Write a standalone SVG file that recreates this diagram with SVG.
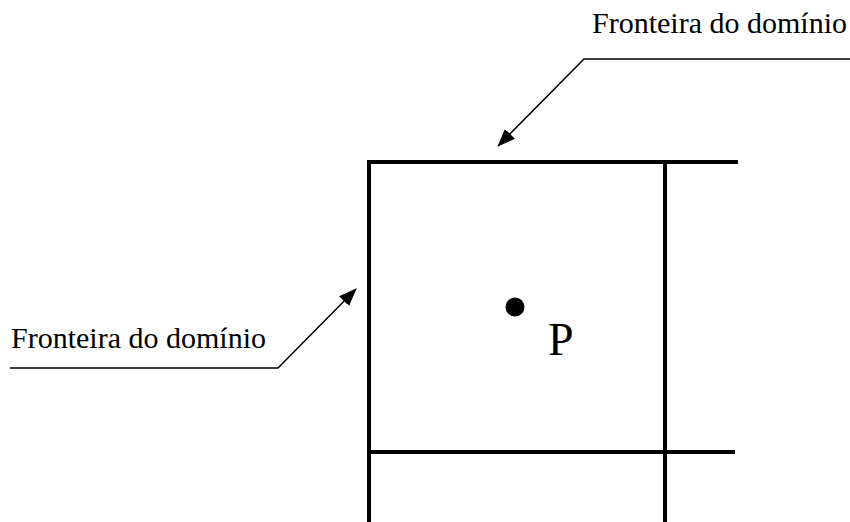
<svg xmlns="http://www.w3.org/2000/svg" width="850" height="522" viewBox="0 0 850 522">
<style>
.grid{stroke:#000;stroke-width:4;fill:none;stroke-linecap:square}
.lead{stroke:#000;stroke-width:1.5;fill:none}
.lbl{font-family:'Liberation Serif','Times New Roman',serif;font-size:30px;fill:#000}
.p{font-family:'Liberation Serif','Times New Roman',serif;font-size:46px;fill:#000}
</style>
<defs>
<marker id="ah" viewBox="0 0 18 14" refX="17" refY="7" markerWidth="18" markerHeight="14" markerUnits="userSpaceOnUse" orient="auto">
<path d="M0,0 L18,7 L0,14 Z" fill="#000"/>
</marker>
</defs>
<g id="grid">
<line class="grid" x1="369" y1="162" x2="736" y2="162"/>
<line class="grid" x1="369" y1="162" x2="369" y2="522"/>
<line class="grid" x1="665" y1="162" x2="665" y2="522"/>
<line class="grid" x1="369" y1="452" x2="733" y2="452"/>
</g>
<g id="point-P">
<circle cx="515" cy="307" r="9.5" fill="#000"/>
<text class="p" x="548" y="355">P</text>
</g>
<g id="label-top">
<text class="lbl" x="592" y="33">Fronteira do domínio</text>
</g>
<g id="label-left">
<text class="lbl" x="11" y="348">Fronteira do domínio</text>
</g>
<g id="connectors">
<polyline class="lead" points="850,59 584,59 498,146" marker-end="url(#ah)"/>
<polyline class="lead" points="10,368 278,368 356,289" marker-end="url(#ah)"/>
</g>
</svg>
